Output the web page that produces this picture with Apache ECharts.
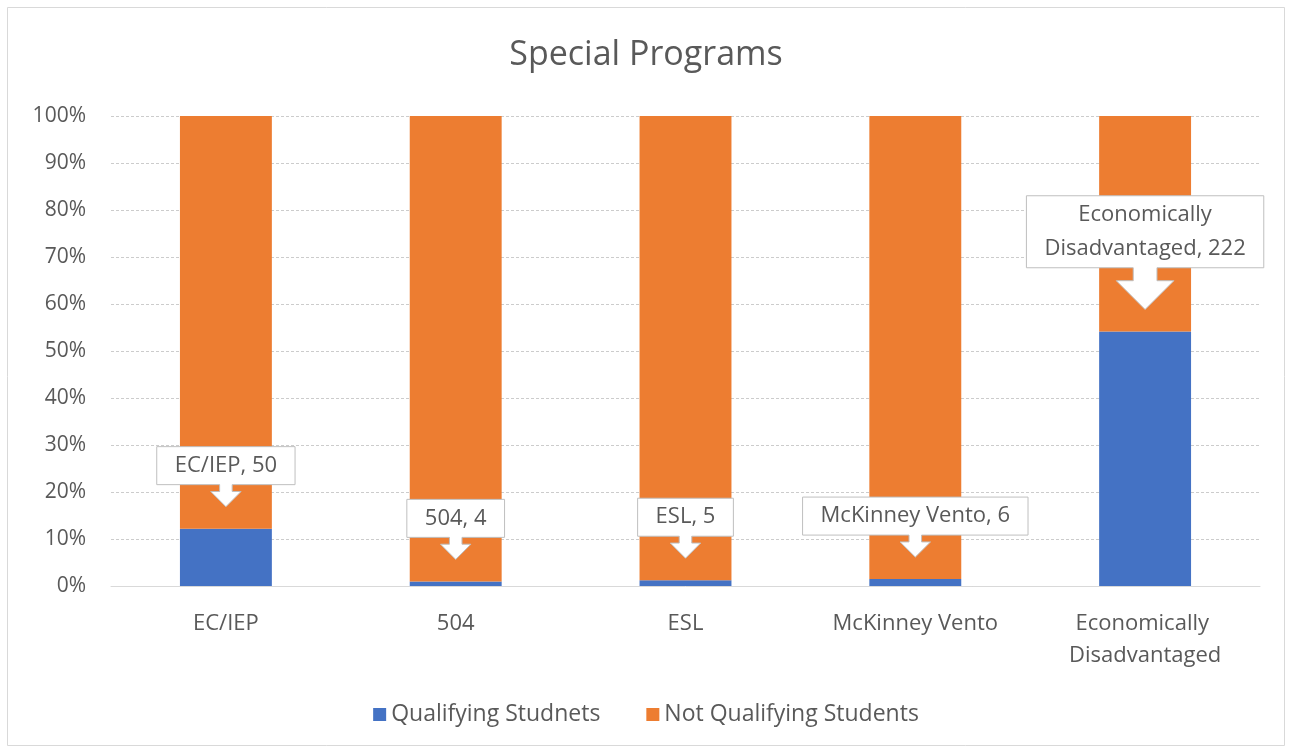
<!DOCTYPE html>
<html>
<head>
<meta charset="utf-8">
<script src="https://cdn.jsdelivr.net/npm/echarts@6/dist/echarts.min.js"></script>
<style>html,body{margin:0;padding:0;background:#fff;}#c{width:1292px;height:753px;}</style>
</head>
<body>
<div id="c"></div>
<script>
const categories = ['EC/IEP', '504', 'ESL', 'McKinney Vento', 'Economically Disadvantaged'];
const qualifying = [50, 4, 5, 6, 222];
const notQualifying = [360, 406, 405, 404, 188];
const seriesNames = ['Qualifying Studnets', 'Not Qualifying Students'];

const FONT = '"Open Sans", "Noto Sans", sans-serif';
const TXT = '#595959';
const LABEL_FONT = '22px ' + FONT;

const pctQ = qualifying.map((q, i) => q / (q + notQualifying[i]) * 100);
const pctN = pctQ.map(p => 100 - p);

const mctx = document.createElement('canvas').getContext('2d');
mctx.font = LABEL_FONT;
function wrap(text, maxW) {
  const words = text.split(' ');
  const lines = [];
  let cur = '';
  words.forEach(w => {
    const t = cur ? cur + ' ' + w : w;
    if (cur && mctx.measureText(t).width > maxW) { lines.push(cur); cur = w; }
    else cur = t;
  });
  if (cur) lines.push(cur);
  return lines;
}

const calloutData = categories.map((c, i) => [i, pctQ[i], qualifying[i]]);

function renderCallout(params, api) {
  const i = api.value(0);
  const pt = api.coord([i, api.value(1)]);
  const text = categories[i] + ', ' + api.value(2);
  const lines = wrap(text, 210);
  const tw = Math.max.apply(null, lines.map(l => mctx.measureText(l).width));
  const w = tw + 36;
  const h = 4 + 34 * lines.length;
  const x = pt[0];
  const tip = pt[1] - 22;
  const a = 0.58 * h;
  const bottom = tip - a;
  const top = bottom - h;
  const hh = 0.4 * h, sh = a - hh, hw = 0.8 * h, sw = 0.33 * h;
  const poly = [
    [x - w / 2, top], [x + w / 2, top], [x + w / 2, bottom], [x + sw / 2, bottom],
    [x + sw / 2, bottom + sh], [x + hw / 2, bottom + sh], [x, tip],
    [x - hw / 2, bottom + sh], [x - sw / 2, bottom + sh], [x - sw / 2, bottom], [x - w / 2, bottom]
  ];
  const children = [{
    type: 'polygon',
    shape: { points: poly },
    style: { fill: '#ffffff', stroke: '#bfbfbf', lineWidth: 1 }
  }];
  lines.forEach((l, k) => {
    children.push({
      type: 'text',
      style: {
        text: l, x: x, y: top + 19 + 34 * k,
        fill: TXT, font: LABEL_FONT, align: 'center', verticalAlign: 'middle'
      }
    });
  });
  return { type: 'group', children: children };
}

const chart = echarts.init(document.getElementById('c'), null, { renderer: 'canvas' });
chart.setOption({
  backgroundColor: '#ffffff',
  animation: false,
  title: {
    text: 'Special Programs',
    left: 'center',
    top: 33,
    textStyle: { fontFamily: FONT, fontSize: 34, fontWeight: 'normal', color: TXT }
  },
  graphic: [{
    type: 'rect',
    shape: { x: 7.5, y: 7.5, width: 1277, height: 738 },
    style: { fill: 'none', stroke: '#d9d9d9', lineWidth: 1 },
    silent: true
  }],
  legend: {
    data: seriesNames,
    bottom: 22,
    left: 'center',
    icon: 'rect',
    itemWidth: 13,
    itemHeight: 13,
    itemGap: 46,
    itemStyle: { borderWidth: 0 },
    textStyle: { fontFamily: FONT, fontSize: 23, color: TXT }
  },
  grid: { left: 111, right: 32, top: 116, bottom: 167, containLabel: false },
  xAxis: {
    type: 'category',
    data: categories,
    axisLine: { lineStyle: { color: '#d9d9d9' } },
    axisTick: { show: false },
    axisLabel: {
      color: TXT, fontFamily: FONT, fontSize: 22, margin: 22,
      width: 190, overflow: 'break', lineHeight: 32, interval: 0
    }
  },
  yAxis: {
    type: 'value',
    min: 0, max: 100, interval: 10,
    axisLine: { show: false },
    axisTick: { show: false },
    axisLabel: { color: TXT, fontFamily: FONT, fontSize: 21, margin: 25, formatter: '{value}%' },
    splitLine: { lineStyle: { color: '#cccccc', type: [3, 2] } }
  },
  series: [
    {
      name: seriesNames[0], type: 'bar', stack: 'total', barWidth: '40%',
      itemStyle: { color: '#4472C4' }, data: pctQ
    },
    {
      name: seriesNames[1], type: 'bar', stack: 'total', barWidth: '40%',
      itemStyle: { color: '#ED7D31' }, data: pctN
    },
    {
      type: 'custom', name: 'callouts', z: 10, silent: true,
      renderItem: renderCallout, data: calloutData
    }
  ]
});
</script>
</body>
</html>
